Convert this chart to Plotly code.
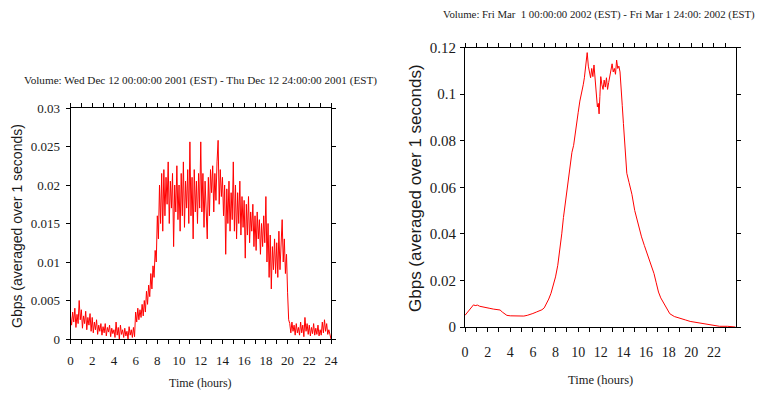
import plotly.graph_objects as go

# ---------------- data ----------------
# Left panel: Wed Dec 12 2001, sampled every 0.1 h (values in Gbps)
left_hours = [round(i * 0.1, 1) for i in range(241)]
left_gbps = [
    0.0030, 0.0018, 0.0035, 0.0022, 0.0040, 0.0015, 0.0032, 0.0020, 0.0050, 0.0025,
    0.0038, 0.0014, 0.0030, 0.0020, 0.0036, 0.0012, 0.0028, 0.0018, 0.0033, 0.0010,
    0.0028, 0.0008, 0.0022, 0.0012, 0.0025, 0.0006, 0.0018, 0.0010, 0.0020, 0.0005,
    0.0016, 0.0008, 0.0020, 0.0004, 0.0015, 0.0009, 0.0018, 0.0003, 0.0014, 0.0007,
    0.0012, 0.0002, 0.0022, 0.0005, 0.0015, 0.0000, 0.0018, 0.0006, 0.0012, 0.0002,
    0.0014, 0.0004, 0.0010, 0.0000, 0.0016, 0.0005, 0.0012, 0.0002, 0.0015, 0.0003,
    0.0035, 0.0022, 0.0040, 0.0025, 0.0038, 0.0028, 0.0045, 0.0030, 0.0050, 0.0035,
    0.0062, 0.0045, 0.0070, 0.0055, 0.0085, 0.0065, 0.0095, 0.0080, 0.0115, 0.0100,
    0.0160, 0.0130, 0.0200, 0.0150, 0.0215, 0.0140, 0.0220, 0.0160, 0.0210, 0.0175,
    0.0230, 0.0150, 0.0205, 0.0170, 0.0215, 0.0120, 0.0200, 0.0165, 0.0225, 0.0155,
    0.0200, 0.0140, 0.0215, 0.0160, 0.0230, 0.0145, 0.0205, 0.0170, 0.0220, 0.0150,
    0.0256, 0.0160, 0.0210, 0.0130, 0.0220, 0.0165, 0.0205, 0.0150, 0.0215, 0.0170,
    0.0256, 0.0165, 0.0215, 0.0145, 0.0205, 0.0175, 0.0130, 0.0210, 0.0160, 0.0220,
    0.0190, 0.0225, 0.0165, 0.0215, 0.0180, 0.0230, 0.0258, 0.0175, 0.0220, 0.0185,
    0.0210, 0.0160, 0.0200, 0.0110, 0.0195, 0.0150, 0.0205, 0.0140, 0.0190, 0.0155,
    0.0230, 0.0140, 0.0200, 0.0130, 0.0190, 0.0150, 0.0205, 0.0135, 0.0185, 0.0145,
    0.0180, 0.0105, 0.0175, 0.0135, 0.0185, 0.0125, 0.0165, 0.0140, 0.0175, 0.0120,
    0.0160, 0.0115, 0.0165, 0.0130, 0.0155, 0.0110, 0.0150, 0.0120, 0.0160, 0.0125,
    0.0185, 0.0100, 0.0150, 0.0080, 0.0135, 0.0065, 0.0120, 0.0090, 0.0130, 0.0085,
    0.0125, 0.0080, 0.0140, 0.0090, 0.0120, 0.0155, 0.0100, 0.0130, 0.0085, 0.0110,
    0.0060, 0.0025, 0.0020, 0.0008, 0.0022, 0.0010, 0.0018, 0.0005, 0.0020, 0.0008,
    0.0015, 0.0005, 0.0022, 0.0008, 0.0018, 0.0003, 0.0028, 0.0010, 0.0020, 0.0006,
    0.0018, 0.0004, 0.0015, 0.0007, 0.0020, 0.0005, 0.0014, 0.0006, 0.0018, 0.0004,
    0.0012, 0.0005, 0.0022, 0.0008, 0.0025, 0.0010, 0.0020, 0.0006, 0.0012, 0.0003,
    0.0000,
]

# Right panel: Fri Mar 1 2002 (values in Gbps)
right_hours = [
    0, 0.2, 0.4, 0.6, 0.75, 0.9, 1.1, 1.3, 1.6, 1.9, 2.2, 2.5, 2.8, 3.1, 3.3, 3.5,
    3.7, 4.0, 4.3, 4.6, 4.9, 5.2, 5.5, 5.8, 6.0, 6.3, 6.6, 6.8, 7.0, 7.2, 7.4, 7.6,
    7.8, 8.0, 8.2, 8.4, 8.55, 8.7, 8.9, 9.1, 9.3, 9.45, 9.6, 9.8, 10.0, 10.15, 10.3,
    10.45, 10.55, 10.65, 10.7, 10.8, 10.9, 11.0, 11.1, 11.2, 11.3, 11.4, 11.5, 11.56,
    11.62, 11.7, 11.78, 11.85, 11.92, 12.0, 12.1, 12.2, 12.3, 12.4, 12.5, 12.6, 12.7,
    12.8, 12.9, 13.0, 13.1, 13.2, 13.3, 13.4, 13.5, 13.6, 13.7, 13.8, 13.9, 14.0,
    14.15, 14.3, 14.5, 14.75, 15.0, 15.2, 15.4, 15.6, 15.85, 16.1, 16.4, 16.7, 16.9,
    17.1, 17.3, 17.5, 17.8, 18.1, 18.5, 19.0, 19.5, 19.9, 20.5, 21.1, 21.5, 22.0,
    22.5, 23.2, 23.6, 23.9,
]
right_gbps = [
    0.0050, 0.0062, 0.0075, 0.0088, 0.0095, 0.0092, 0.0094, 0.0089, 0.0087, 0.0082,
    0.0080, 0.0077, 0.0076, 0.0073, 0.0064, 0.0055, 0.0050, 0.0048, 0.0047, 0.0046,
    0.0045, 0.0047, 0.0050, 0.0054, 0.0058, 0.0064, 0.0070, 0.0074, 0.0082, 0.0100,
    0.0120, 0.0145, 0.0180, 0.0215, 0.0265, 0.0330, 0.0400, 0.0470, 0.0550, 0.0630,
    0.0700, 0.0750, 0.0780, 0.0860, 0.0920, 0.0970, 0.1000, 0.1040, 0.1070, 0.1110,
    0.1146, 0.1178, 0.1120, 0.1085, 0.1070, 0.1110, 0.1075, 0.1125, 0.1060, 0.1000,
    0.0980, 0.0945, 0.0960, 0.0915, 0.0990, 0.1075, 0.1040, 0.1020, 0.1060, 0.1030,
    0.1070, 0.1020, 0.1050, 0.1080, 0.1100, 0.1130, 0.1095, 0.1110, 0.1085, 0.1146,
    0.1110, 0.1120, 0.1095, 0.1040, 0.0950, 0.0874, 0.0760, 0.0660, 0.0620, 0.0570,
    0.0500, 0.0460, 0.0420, 0.0387, 0.0350, 0.0315, 0.0270, 0.0230, 0.0190, 0.0150,
    0.0125, 0.0107, 0.0080, 0.0057, 0.0045, 0.0036, 0.0030, 0.0024, 0.0019, 0.0014,
    0.0011, 0.0005, 0.0003, 0.0003, 0.0002, 0.0000,
]

left_title = "Volume: Wed Dec 12 00:00:00 2001 (EST) - Thu Dec 12 24:00:00 2001 (EST)"
right_title = "Volume: Fri Mar  1 00:00:00 2002 (EST) - Fri Mar 1 24:00: 2002 (EST)"
x_title = "Time (hours)"
y_title = "Gbps (averaged over 1 seconds)"

# ---------------- figure ----------------
# The page body has an 8px margin, so the figure is drawn 8px in from the
# top-left corner of the window; size it to fill the rest of the window.
OFF = 8
W, H = 765 - OFF, 394 - OFF
SERIF = "Liberation Serif"
SANS = "Liberation Sans"
INK = "#1a1a1a"

fig = go.Figure()
fig.add_trace(go.Scatter(x=left_hours, y=left_gbps, mode="lines",
                         line=dict(color="#ff0000", width=1), xaxis="x", yaxis="y",
                         showlegend=False))
fig.add_trace(go.Scatter(x=right_hours, y=right_gbps, mode="lines",
                         line=dict(color="#ff0000", width=1), xaxis="x2", yaxis="y2",
                         showlegend=False))


def px_x(p):
    return (p - OFF) / W


def px_y(p):
    return 1 - (p - OFF) / H


axis_common = dict(showgrid=False, zeroline=False, showline=True, linecolor="black",
                   linewidth=1, mirror="ticks", ticks="outside", ticklen=4,
                   tickcolor="black", tickwidth=1, automargin=False)

fig.update_layout(
    width=W, height=H, autosize=False, margin=dict(l=0, r=0, t=0, b=0, pad=0),
    paper_bgcolor="white", plot_bgcolor="white",
    xaxis=dict(domain=[px_x(70.5), px_x(331)], anchor="y", range=[0, 24], dtick=2, tick0=0,
               minor=dict(dtick=1, ticks="outside", ticklen=4, tickcolor="black"),
               tickfont=dict(family=SERIF, size=13, color=INK), ticklabelstandoff=5,
               **axis_common),
    yaxis=dict(domain=[px_y(339), px_y(108)], anchor="x", range=[0, 0.03], dtick=0.005,
               tickfont=dict(family=SERIF, size=13, color=INK), ticklabelstandoff=3,
               **axis_common),
    xaxis2=dict(domain=[px_x(465), px_x(736)], anchor="y2", range=[0, 23.95],
                tickvals=list(range(0, 23, 2)),
                minor=dict(dtick=1, ticks="outside", ticklen=4, tickcolor="black"),
                tickfont=dict(family=SERIF, size=14, color=INK), ticklabelstandoff=8,
                **axis_common),
    yaxis2=dict(domain=[px_y(327), px_y(47.5)], anchor="x2", range=[0, 0.12], dtick=0.02,
                tickfont=dict(family=SERIF, size=15, color=INK), ticklabelstandoff=1,
                **axis_common),
)

ann = [
    dict(text=left_title, x=px_x(200), y=px_y(80), font=dict(family=SERIF, size=11.2, color=INK)),
    dict(text=right_title, x=px_x(599), y=px_y(15), font=dict(family=SERIF, size=10.8, color=INK)),
    dict(text=x_title, x=px_x(200), y=px_y(383), font=dict(family=SERIF, size=12, color=INK)),
    dict(text=x_title, x=px_x(600), y=px_y(380), font=dict(family=SERIF, size=12.5, color=INK)),
    dict(text=y_title, x=px_x(17), y=px_y(226), textangle=-90,
         font=dict(family=SANS, size=14, color=INK)),
    dict(text=y_title, x=px_x(415), y=px_y(188), textangle=-90,
         font=dict(family=SANS, size=17, color=INK)),
]
for a in ann:
    fig.add_annotation(xref="paper", yref="paper", showarrow=False,
                       xanchor="center", yanchor="middle", **a)

fig.write_html("out.html")
